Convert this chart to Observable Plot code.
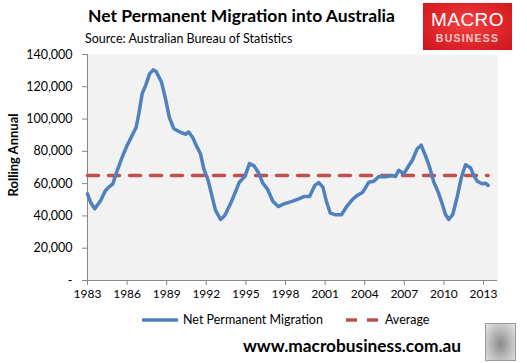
<!DOCTYPE html>
<html>
<head>
<meta charset="utf-8">
<script src="https://cdn.jsdelivr.net/npm/d3@7"></script>
<script src="https://cdn.jsdelivr.net/npm/@observablehq/plot@0.6"></script>
<style>
  html, body { margin: 0; padding: 0; background: #fff; }
  body { width: 527px; height: 363px; position: relative; overflow: hidden; font-family: Lato, "Open Sans", sans-serif; }
  #chart { position: absolute; left: 0; top: 0; }
  .abs { position: absolute; white-space: nowrap; }
  #title { left: 88px; top: 5px; font-size: 17.5px; font-weight: bold; color: #000; }
  #source { left: 85px; top: 31px; font-size: 12.5px; color: #000; }
  #logo { left: 423px; top: 3px; width: 89px; height: 47px;
    background: radial-gradient(ellipse at 50% 45%, #F2403F 0%, #E0262A 55%, #C9161B 100%); }
  #logo .m { position: absolute; left: 0; width: 89px; text-align: center; top: 6px; color: #fff;
    font-family: "Liberation Sans", Arial, sans-serif; font-size: 19px; letter-spacing: 0.5px; }
  #logo .b { position: absolute; left: 0; width: 89px; text-align: center; top: 29px; color: #F9C9C6;
    font-family: "Liberation Sans", Arial, sans-serif; font-size: 10.5px; letter-spacing: 1.2px; font-weight: bold; }
  #ylabel { left: 13px; top: 155px; transform: translate(-50%, -50%) rotate(-90deg); font-size: 13px; font-weight: bold; }
  #legend { left: 142px; top: 312px; font-size: 12.5px; display: flex; align-items: center; }
  #legend .item { display: flex; align-items: center; }
  #footer { left: 243px; top: 335px; font-size: 17.3px; font-weight: bold; color: #000; }
  #wolf { left: 485px; top: 323px; width: 29px; height: 36px; border: 1px solid #9a9a9a;
    background: radial-gradient(ellipse at 50% 55%, #8a8a8a 0%, #b5b5b5 45%, #e6e6e6 100%); }
</style>
</head>
<body>
<div id="chart"></div>
<div class="abs" id="title">Net Permanent Migration into Australia</div>
<div class="abs" id="source">Source: Australian Bureau of Statistics</div>
<div class="abs" id="logo"><div class="m">MACRO</div><div class="b">BUSINESS</div></div>
<div class="abs" id="ylabel">Rolling Annual</div>
<div class="abs" id="legend"></div>
<div class="abs" id="footer">www.macrobusiness.com.au</div>
<div class="abs" id="wolf"></div>
<script>
// ---- Data ----
const years = [
  1983.0, 1983.23, 1983.55, 1984.0, 1984.36, 1984.67, 1984.92, 1985.25, 1985.63, 1986.0,
  1986.38, 1986.69, 1986.89, 1987.14, 1987.45, 1987.7, 1987.98, 1988.2, 1988.6, 1988.9,
  1989.2, 1989.54, 1990.05, 1990.42, 1990.67, 1990.98, 1991.3, 1991.56, 1991.81, 1992.14,
  1992.45, 1992.7, 1993.08, 1993.4, 1993.83, 1994.2, 1994.5, 1994.92, 1995.27, 1995.6,
  1995.93, 1996.28, 1996.62, 1997.04, 1997.45, 1997.88, 1998.5, 1999.0, 1999.39, 1999.82,
  2000.22, 2000.52, 2000.83, 2001.08, 2001.4, 2001.79, 2002.24, 2002.6, 2003.05, 2003.43,
  2003.86, 2004.31, 2004.69, 2005.07, 2005.58, 2006.08, 2006.33, 2006.58, 2006.96, 2007.3,
  2007.6, 2007.98, 2008.28, 2008.6, 2008.9, 2009.24, 2009.57, 2009.87, 2010.12, 2010.37,
  2010.67, 2011.0, 2011.33, 2011.64, 2012.02, 2012.27, 2012.52, 2012.9, 2013.15, 2013.35
];
const migration = [
  53700, 48500, 44400, 49600, 55700, 58200, 59900, 68100, 76400, 83600,
  89800, 95000, 103300, 115700, 121800, 128000, 130500, 129500, 123000, 113000,
  101000, 94000, 91800, 90600, 92000, 88400, 82600, 78500, 69200, 62000,
  51600, 43400, 37800, 40300, 47500, 54700, 60900, 64400, 72400, 71200,
  67100, 60300, 56800, 49100, 45800, 47500, 49000, 50600, 52000, 52000,
  58900, 60600, 57800, 49600, 41700, 40700, 40700, 45400, 50000, 52700,
  54700, 60900, 61500, 64400, 64200, 65000, 64400, 68300, 66100, 70600,
  74300, 81600, 83800, 77400, 70600, 60900, 54700, 47500, 40900, 37800,
  40900, 51600, 64000, 71700, 69800, 65000, 61500, 59900, 60300, 58900
];
const averageValue = 65000;
const xTicks = [1983, 1986, 1989, 1992, 1995, 1998, 2001, 2004, 2007, 2010, 2013];
const yTicks = [0, 20000, 40000, 60000, 80000, 100000, 120000, 140000];
const seriesNames = ["Net Permanent Migration", "Average"];

const blue = "#4F81BD", red = "#C0504D", axisGray = "#868686";

const data = years.map((x, i) => ({x, y: migration[i]}));
const avgData = [{x: years[0], y: averageValue}, {x: years[years.length - 1], y: averageValue}];

const fmt = d3.format(",");
const chart = Plot.plot({
  width: 527,
  height: 300,
  marginLeft: 87,
  marginRight: 30,
  marginTop: 54,
  marginBottom: 20,
  style: {fontFamily: "Lato, 'Open Sans', sans-serif", fontSize: "12px", color: "#000", background: "transparent"},
  x: {domain: [1983, 2014.06]},
  y: {domain: [0, 140000]},
  marks: [
    Plot.frame({fill: "#F2F2F2", stroke: null}),
    Plot.axisY({ticks: yTicks, tickSize: 5, tickPadding: 10, stroke: axisGray, label: null,
      tickFormat: d => d === 0 ? "-" : fmt(d), fontSize: 12.5}),
    Plot.axisX({ticks: xTicks, tickSize: 5, tickPadding: 4, stroke: axisGray, label: null,
      tickFormat: d => String(d), fontSize: 12}),
    Plot.ruleX([1983], {stroke: axisGray, strokeWidth: 1}),
    Plot.ruleY([0], {stroke: axisGray, strokeWidth: 1}),
    Plot.line(avgData, {x: "x", y: "y", stroke: red, strokeWidth: 3.5, strokeDasharray: "11,10"}),
    Plot.line(data, {x: "x", y: "y", stroke: blue, strokeWidth: 3.5, strokeLinejoin: "round", strokeLinecap: "round"})
  ]
});
document.getElementById("chart").appendChild(chart);

// Legend
const legend = document.getElementById("legend");
legend.innerHTML = `
  <span class="item"><svg width="38" height="6"><line x1="0" y1="3" x2="36" y2="3" stroke="${blue}" stroke-width="3.5"/></svg><span style="margin-left:3px">${seriesNames[0]}</span></span>
  <span class="item" style="margin-left:22px"><svg width="36" height="6"><line x1="1" y1="3" x2="33" y2="3" stroke="${red}" stroke-width="3.5" stroke-dasharray="11,10"/></svg><span style="margin-left:4px">${seriesNames[1]}</span></span>`;
</script>
</body>
</html>
